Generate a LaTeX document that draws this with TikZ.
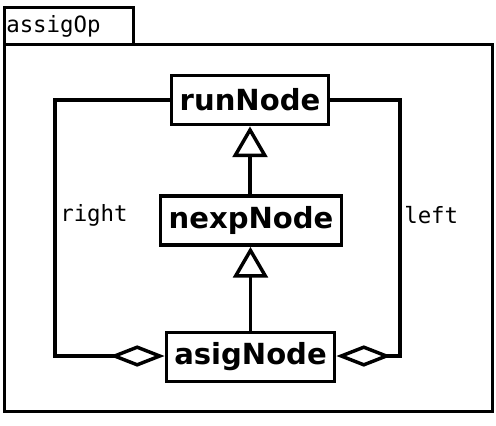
\documentclass[tikz,border=0pt]{standalone}
\usepackage{fontspec}
\newfontfamily\umlfont{DejaVu Sans}
\newfontfamily\umlmono{DejaVu Sans Mono}
\usetikzlibrary{arrows.meta}
\tikzset{
  classbox/.style={draw, line width=2.6pt, inner xsep=6pt, minimum height=37pt, font=\umlfont\bfseries\fontsize{21.8}{24}\selectfont},
  rolelabel/.style={anchor=west, inner sep=0pt, font=\umlmono\fontsize{16.8}{19}\selectfont},
  inherit/.style={line width=2.6pt, -{Triangle[open, length=23pt, width=26pt]}},
  aggreg/.style={line width=2.6pt, -{Diamond[open, length=41pt, width=16pt]}}
}
\begin{document}
\begin{tikzpicture}[x=0.75pt, y=-0.75pt]
\useasboundingbox (0,0) rectangle (496,425);
\draw [line width=2.6pt] (4.5,44.5) rectangle (492.5,411.5);
\draw [line width=2.6pt] (4.5,7.5) rectangle (133.5,44.5);
\node (pkgname) [rolelabel] at (6,26) {\umlmono assigOp};

\node (runNode) [classbox] at (250,100) {runNode};
\node (nexpNode) [classbox] at (251,220.5) {nexpNode};
\node (asigNode) [classbox] at (250.5,357) {asigNode};

\draw [inherit] (nexpNode.north -| runNode) -- (runNode.south);
\draw [inherit] (asigNode.north) -- (nexpNode.south -| asigNode);

\coordinate (lefttop) at (55,100);
\coordinate (leftbot) at (55,356);
\coordinate (righttop) at (400,100);
\coordinate (rightbot) at (400,356);
\draw [aggreg] (runNode.west) -- (lefttop) -- (leftbot) -- (asigNode.west |- leftbot);
\draw [aggreg] (runNode.east) -- (righttop) -- (rightbot) -- (asigNode.east |- rightbot);

\node (rightlbl) [rolelabel] at (60,215) {right};
\node (leftlbl) [rolelabel] at (404,215) {left};
\end{tikzpicture}
\end{document}
